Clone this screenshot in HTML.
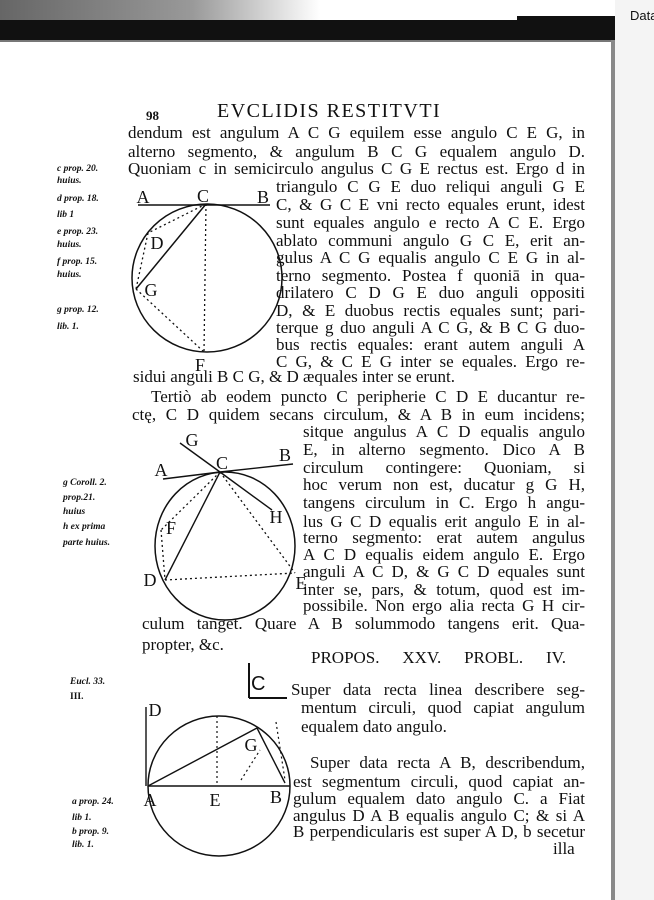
<!DOCTYPE html>
<html><head><meta charset="utf-8"><style>
body{margin:0;width:654px;height:900px;background:#fff;position:relative;overflow:hidden;font-family:"Liberation Serif",serif;color:#111}
.l{position:absolute;font-size:17px;line-height:20px;white-space:nowrap;text-align:justify;text-align-last:justify}
.n{position:absolute;font-size:9.5px;font-style:italic;font-weight:bold;line-height:12px;white-space:nowrap}
svg{position:absolute;left:0;top:0}
</style></head><body>
<div style="position:absolute;left:0;top:0;width:320px;height:20px;background:linear-gradient(90deg,#666,#999 60%,#fff)"></div>
<div style="position:absolute;left:0;top:20px;width:615px;height:21px;background:#111"></div>
<div style="position:absolute;left:517px;top:16px;width:98px;height:25px;background:#111"></div>
<div style="position:absolute;left:0;top:40px;width:615px;height:2px;background:#777"></div>
<div style="position:absolute;left:611px;top:40px;width:4px;height:860px;background:#888"></div>
<div style="position:absolute;left:615px;top:0;width:39px;height:900px;background:#f4f4f4"></div>
<div style="position:absolute;left:630px;top:8px;font-family:'Liberation Sans',sans-serif;font-size:13px">Data</div>

<div class="l" style="left:146px;top:106px;font-size:13px;font-weight:bold">98</div>
<div style="position:absolute;left:217px;top:101px;font-size:20px;line-height:20px;letter-spacing:1.5px;white-space:nowrap">EVCLIDIS RESTITVTI</div>

<div class="l" style="left:128px;top:123px;width:457px">dendum est angulum A C G equilem esse angulo C E G, in</div>
<div class="l" style="left:128px;top:142px;width:457px">alterno segmento, &amp; angulum B C G equalem angulo D.</div>
<div class="l" style="left:128px;top:159px;width:457px">Quoniam c in semicirculo angulus C G E rectus est. Ergo d in</div>
<div class="l" style="left:276px;top:177px;width:309px">triangulo C G E duo reliqui anguli G E</div>
<div class="l" style="left:276px;top:195px;width:309px">C, &amp; G C E vni recto equales erunt, idest</div>
<div class="l" style="left:276px;top:213px;width:309px">sunt equales angulo e recto A C E. Ergo</div>
<div class="l" style="left:276px;top:231px;width:309px">ablato communi angulo G C E, erit an-</div>
<div class="l" style="left:276px;top:248px;width:309px">gulus A C G equalis angulo C E G in al-</div>
<div class="l" style="left:276px;top:266px;width:309px">terno segmento. Postea f quoniā in qua-</div>
<div class="l" style="left:276px;top:283px;width:309px">drilatero C D G E duo anguli oppositi</div>
<div class="l" style="left:276px;top:301px;width:309px">D, &amp; E duobus rectis equales sunt; pari-</div>
<div class="l" style="left:276px;top:318px;width:309px">terque g duo anguli A C G, &amp; B C G duo-</div>
<div class="l" style="left:276px;top:335px;width:309px">bus rectis equales: erant autem anguli A</div>
<div class="l" style="left:276px;top:352px;width:309px">C G, &amp; C E G inter se equales. Ergo re-</div>
<div class="l" style="left:133px;top:367px;width:260px">sidui anguli B C G, &amp; D æquales inter se erunt.</div>
<div class="l" style="left:151px;top:387px;width:434px">Tertiò ab eodem puncto C peripherie C D E ducantur re-</div>
<div class="l" style="left:132px;top:405px;width:453px">ctę, C D quidem secans circulum, &amp; A B in eum incidens;</div>
<div class="l" style="left:303px;top:422px;width:282px">sitque angulus A C D equalis angulo</div>
<div class="l" style="left:303px;top:440px;width:282px">E, in alterno segmento. Dico A B</div>
<div class="l" style="left:303px;top:458px;width:282px">circulum contingere: Quoniam, si</div>
<div class="l" style="left:303px;top:475px;width:282px">hoc verum non est, ducatur g G H,</div>
<div class="l" style="left:303px;top:493px;width:282px">tangens circulum in C. Ergo h angu-</div>
<div class="l" style="left:303px;top:512px;width:282px">lus G C D equalis erit angulo E in al-</div>
<div class="l" style="left:303px;top:528px;width:282px">terno segmento: erat autem angulus</div>
<div class="l" style="left:303px;top:545px;width:282px">A C D equalis eidem angulo E. Ergo</div>
<div class="l" style="left:303px;top:562px;width:282px">anguli A C D, &amp; G C D equales sunt</div>
<div class="l" style="left:303px;top:580px;width:282px">inter se, pars, &amp; totum, quod est im-</div>
<div class="l" style="left:303px;top:596px;width:282px">possibile. Non ergo alia recta G H cir-</div>
<div class="l" style="left:142px;top:614px;width:443px">culum tanget. Quare A B solummodo tangens erit. Qua-</div>
<div class="l" style="left:142px;top:635px">propter, &amp;c.</div>
<div class="l" style="left:311px;top:648px;width:255px">PROPOS. XXV. PROBL. IV.</div>

<div class="l" style="left:291px;top:680px;width:294px">Super data recta linea describere seg-</div>
<div class="l" style="left:301px;top:698px;width:284px">mentum circuli, quod capiat angulum</div>
<div class="l" style="left:301px;top:717px">equalem dato angulo.</div>
<div class="l" style="left:310px;top:753px;width:275px">Super data recta A B, describendum,</div>
<div class="l" style="left:293px;top:772px;width:292px">est segmentum circuli, quod capiat an-</div>
<div class="l" style="left:293px;top:789px;width:292px">gulum equalem dato angulo C. a Fiat</div>
<div class="l" style="left:293px;top:806px;width:292px">angulus D A B equalis angulo C; &amp; si A</div>
<div class="l" style="left:293px;top:822px;width:292px">B perpendicularis est super A D, b secetur</div>
<div class="l" style="left:553px;top:839px">illa</div>

<div class="n" style="left:57px;top:163px">c prop. 20.</div>
<div class="n" style="left:57px;top:175px">huius.</div>
<div class="n" style="left:57px;top:193px">d prop. 18.</div>
<div class="n" style="left:57px;top:209px">lib 1</div>
<div class="n" style="left:57px;top:226px">e prop. 23.</div>
<div class="n" style="left:57px;top:239px">huius.</div>
<div class="n" style="left:57px;top:256px">f prop. 15.</div>
<div class="n" style="left:57px;top:269px">huius.</div>
<div class="n" style="left:57px;top:304px">g prop. 12.</div>
<div class="n" style="left:57px;top:321px">lib. 1.</div>
<div class="n" style="left:63px;top:477px">g Coroll. 2.</div>
<div class="n" style="left:63px;top:492px">prop.21.</div>
<div class="n" style="left:63px;top:506px">huius</div>
<div class="n" style="left:63px;top:521px">h ex prima</div>
<div class="n" style="left:63px;top:537px">parte huius.</div>
<div class="n" style="left:70px;top:676px">Eucl. 33.</div>
<div class="n" style="left:70px;top:691px;font-style:normal">III.</div>
<div class="n" style="left:72px;top:796px">a prop. 24.</div>
<div class="n" style="left:72px;top:812px">lib 1.</div>
<div class="n" style="left:72px;top:826px">b prop. 9.</div>
<div class="n" style="left:72px;top:839px">lib. 1.</div>

<svg width="654" height="900" font-family="Liberation Serif,serif" font-size="18" fill="none" stroke="#111">
<!-- fig 1 -->
<ellipse cx="207" cy="278" rx="75" ry="74" stroke-width="1.5"/>
<line x1="138" y1="205" x2="270" y2="205" stroke-width="1.5"/>
<line x1="206" y1="204" x2="136" y2="289" stroke-width="1.5"/>
<g stroke-dasharray="2,3" stroke-width="1.3">
<line x1="206" y1="204" x2="148" y2="233"/><line x1="148" y1="233" x2="136" y2="289"/>
<line x1="136" y1="289" x2="204" y2="352"/><line x1="206" y1="204" x2="204" y2="352"/>
</g>
<g fill="#111" stroke="none" text-anchor="middle">
<text x="143" y="203">A</text><text x="203" y="202">C</text><text x="263" y="203">B</text>
<text x="157" y="249">D</text><text x="151" y="296">G</text><text x="200" y="371">F</text>
</g>
<!-- fig 2 -->
<ellipse cx="225" cy="546" rx="70" ry="74" stroke-width="1.5"/>
<line x1="163" y1="479" x2="220" y2="472" stroke-width="1.4"/>
<line x1="220" y1="472" x2="293" y2="464" stroke-width="1.4"/>
<line x1="180" y1="443" x2="220" y2="472" stroke-width="1.4"/>
<line x1="220" y1="472" x2="272" y2="510" stroke-width="1.4"/>
<line x1="220" y1="472" x2="165" y2="580" stroke-width="1.4"/>
<g stroke-dasharray="2,3" stroke-width="1.3">
<line x1="220" y1="472" x2="161" y2="530"/><line x1="161" y1="530" x2="165" y2="580"/>
<line x1="220" y1="472" x2="295" y2="573"/><line x1="165" y1="580" x2="295" y2="573"/>
</g>
<g fill="#111" stroke="none" text-anchor="middle">
<text x="192" y="446">G</text><text x="222" y="469">C</text><text x="161" y="476">A</text><text x="285" y="461">B</text>
<text x="276" y="523">H</text><text x="171" y="534">F</text><text x="150" y="586">D</text><text x="301" y="589">E</text>
</g>
<!-- fig 3 -->
<line x1="249" y1="663" x2="249" y2="698" stroke-width="2"/>
<line x1="249" y1="698" x2="287" y2="698" stroke-width="2"/>
<text x="251" y="690" fill="#111" stroke="none" font-size="20" font-family="Liberation Sans,sans-serif">C</text>
<ellipse cx="219" cy="786" rx="71" ry="70" stroke-width="1.5"/>
<line x1="148" y1="786" x2="290" y2="786" stroke-width="1.4"/>
<line x1="146" y1="707" x2="146" y2="786" stroke-width="1.4"/>
<line x1="148" y1="786" x2="257" y2="728" stroke-width="1.4"/>
<line x1="257" y1="728" x2="285" y2="783" stroke-width="1.4"/>
<g stroke-dasharray="2,3" stroke-width="1.2">
<line x1="217" y1="716" x2="217" y2="786"/><line x1="241" y1="780" x2="260" y2="750"/>
<line x1="276" y1="722" x2="285" y2="780"/>
</g>
<g fill="#111" stroke="none" text-anchor="middle">
<text x="155" y="716">D</text><text x="150" y="806">A</text><text x="215" y="806">E</text>
<text x="276" y="803">B</text><text x="251" y="751">G</text>
</g>
</svg>
</body></html>
